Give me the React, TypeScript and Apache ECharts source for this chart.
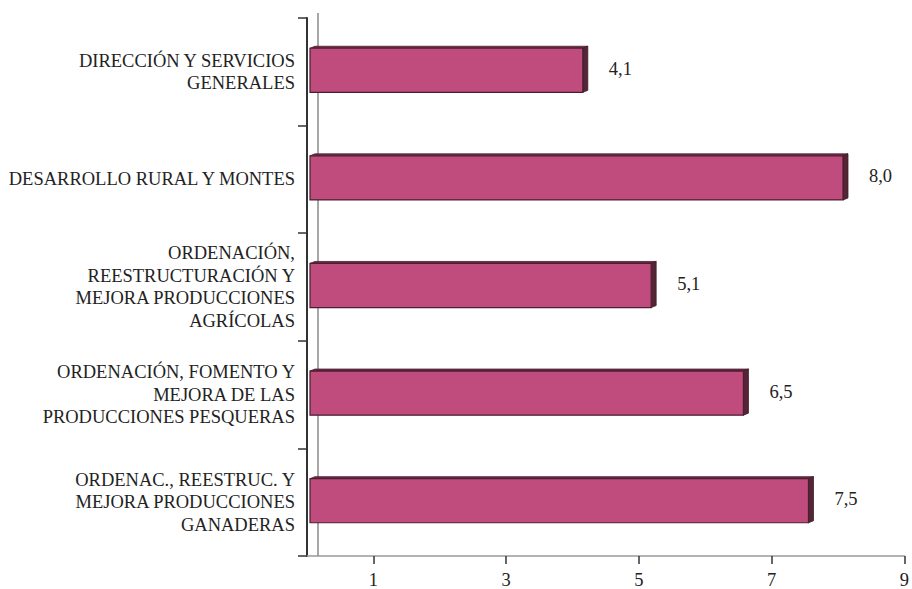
import React, { useEffect, useRef } from "react";
import * as echarts from "echarts";

const categories: string[] = [
  "DIRECCIÓN Y SERVICIOS\nGENERALES",
  "DESARROLLO RURAL Y MONTES",
  "ORDENACIÓN,\nREESTRUCTURACIÓN Y\nMEJORA PRODUCCIONES\nAGRÍCOLAS",
  "ORDENACIÓN, FOMENTO Y\nMEJORA DE LAS\nPRODUCCIONES PESQUERAS",
  "ORDENAC., REESTRUC. Y\nMEJORA PRODUCCIONES\nGANADERAS",
];
const values: number[] = [4.11, 8.03, 5.14, 6.53, 7.51];
const xTicks: number[] = [1, 3, 5, 7, 9];

const FONT = "Liberation Serif, Times New Roman, serif";

export default function App() {
  const ref = useRef<HTMLDivElement>(null);
  useEffect(() => {
    if (!ref.current) return;
    const chart = echarts.init(ref.current, undefined, { renderer: "svg" });
    const data = values.map((v, i) => [v, i]);
    chart.setOption({
      animation: false,
      backgroundColor: "#ffffff",
      grid: { left: 307, right: 6, top: 18, bottom: 33, containLabel: false },
      xAxis: {
        type: "value",
        min: 0,
        max: 9,
        splitLine: { show: false },
        axisLine: { show: true, lineStyle: { color: "#999", width: 1.5 } },
        axisTick: { show: true, length: 8, customValues: xTicks, lineStyle: { color: "#333", width: 1.5 } },
        axisLabel: {
          customValues: xTicks,
          color: "#222",
          fontFamily: FONT,
          fontSize: 18.5,
          margin: 14,
        },
      },
      yAxis: {
        type: "category",
        data: categories,
        inverse: true,
        boundaryGap: true,
        axisLine: { show: true, lineStyle: { color: "#333", width: 2 } },
        axisTick: { show: true, length: 9, alignWithLabel: false, lineStyle: { color: "#333", width: 1.5 } },
        axisLabel: {
          color: "#222",
          fontFamily: FONT,
          fontSize: 18.5,
          lineHeight: 22.5,
          margin: 12,
          align: "right",
        },
      },
      series: [
        {
          type: "custom",
          encode: { x: 0, y: 1 },
          data,
          renderItem: (params: any, api: any) => {
            const v = api.value(0);
            const idx = api.value(1);
            const [x1, yc] = api.coord([v, idx]);
            const [x0] = api.coord([0, idx]);
            const bandH = api.size([0, 1])[1];
            const h = bandH * 0.41;
            const dx = 3;
            const dy = -1.5;
            const ddx = 5;
            const ddy = -2;
            const fx0 = x0 + dx;
            const fx1 = x1 + dx;
            const top = yc + dy - h / 2;
            const bot = yc + dy + h / 2;
            const children: any[] = [];
            if (params.dataIndex === 0) {
              const cs = params.coordSys;
              children.push({
                type: "line",
                shape: { x1: x0 + 11, y1: cs.y - 5, x2: x0 + 11, y2: cs.y + cs.height },
                style: { stroke: "#8a8a8a", lineWidth: 1.5 },
                z2: 0,
              });
            }
            children.push(
              {
                type: "polygon",
                shape: { points: [[fx0, top], [fx1, top], [fx1 + ddx, top + ddy], [fx0 + ddx, top + ddy]] },
                style: { fill: "#6e2a45", stroke: "#4a1e30", lineWidth: 0.8 },
                z2: 1,
              },
              {
                type: "polygon",
                shape: { points: [[fx1, top], [fx1 + ddx, top + ddy], [fx1 + ddx, bot + ddy], [fx1, bot]] },
                style: { fill: "#552535", stroke: "#3e1a28", lineWidth: 0.8 },
                z2: 1,
              },
              {
                type: "rect",
                shape: { x: fx0, y: top, width: fx1 - fx0, height: h },
                style: { fill: "#bf4c7c", stroke: "#4a1e30", lineWidth: 1.2 },
                z2: 2,
              },
              {
                type: "text",
                style: {
                  text: v.toFixed(1).replace(".", ","),
                  x: fx1 + ddx + 21,
                  y: yc - 3,
                  align: "left",
                  verticalAlign: "middle",
                  fill: "#222",
                  font: `18.5px ${FONT}`,
                },
                z2: 3,
              }
            );
            return { type: "group", children };
          },
        },
      ],
    });
    return () => chart.dispose();
  }, []);
  return <div ref={ref} style={{ width: 912, height: 589, position: "absolute", left: 0, top: 0 }} />;
}
